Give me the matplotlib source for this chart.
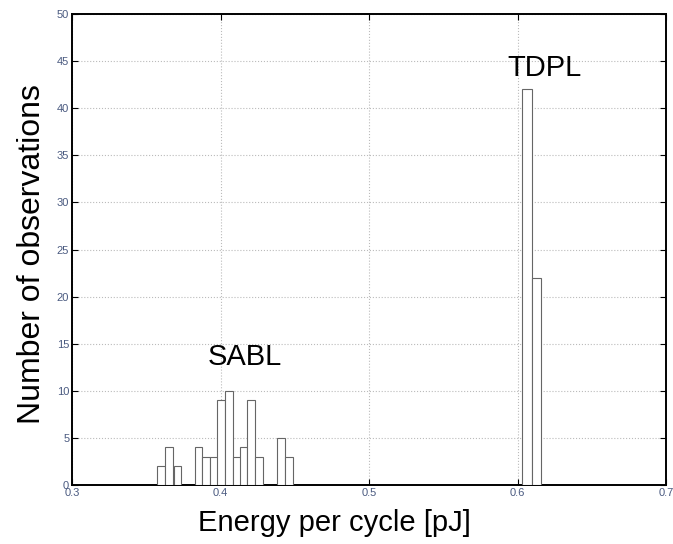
import matplotlib.pyplot as plt
import numpy as np

# bar centers [pJ] and counts
sabl_centers = [0.3598, 0.3655, 0.3710, 0.3852, 0.3904, 0.3956, 0.4005,
                0.4059, 0.4109, 0.4154, 0.4207, 0.4259, 0.4409, 0.4460]
sabl_counts = [2, 4, 2, 4, 3, 3, 9, 10, 3, 4, 9, 3, 5, 3]

tdpl_centers = [0.6062, 0.6124]
tdpl_counts = [42, 22]

x_ticks = [0.3, 0.4, 0.5, 0.6, 0.7]
x_tick_labels = ["0.3", "0.4", "0.5", "0.6", "0.7"]
y_ticks = list(range(0, 51, 5))

plt.rcParams['font.family'] = ['Liberation Sans', 'DejaVu Sans']

fig = plt.figure(figsize=(6.73, 5.44), dpi=100)
ax = fig.add_axes([0.107, 0.1085, 0.883, 0.8655])

barprops = {'color': 'white', 'edgecolor': '#666666', 'linewidth': 0.8, 'zorder': 3}
ax.bar(sabl_centers, sabl_counts, width=0.0052, **barprops)
ax.bar(tdpl_centers, tdpl_counts, width=0.0062, **barprops)

ax.set_xlim(0.3, 0.7)
ax.set_ylim(0, 50)
ax.set_xticks(x_ticks)
ax.set_xticklabels(x_tick_labels)
ax.set_yticks(y_ticks)
ax.tick_params(direction='in', length=4, width=0.8, labelsize=8,
               labelcolor='#4a5a80', top=True, right=True, pad=2)

ax.grid(True, linestyle=':', color='#bbbbbb', linewidth=0.8, zorder=0)
for spine in ax.spines.values():
    spine.set_linewidth(1.4)
    spine.set_color('black')

ax.set_xlabel("Energy per cycle [pJ]", fontsize=21)
ax.set_ylabel("Number of observations", fontsize=23)
ax.xaxis.set_label_coords(0.441, -0.08, transform=ax.transAxes)
ax.yaxis.set_label_coords(-0.068, 0.49, transform=ax.transAxes)
ax.xaxis.label.set_va('center')
ax.yaxis.label.set_va('center')

ax.text(0.4165, 13.6, "SABL", fontsize=21, ha='center', va='center', zorder=4)
ax.text(0.6178, 44.3, "TDPL", fontsize=21, ha='center', va='center', zorder=4)

fig.savefig("out.png", dpi=100)
